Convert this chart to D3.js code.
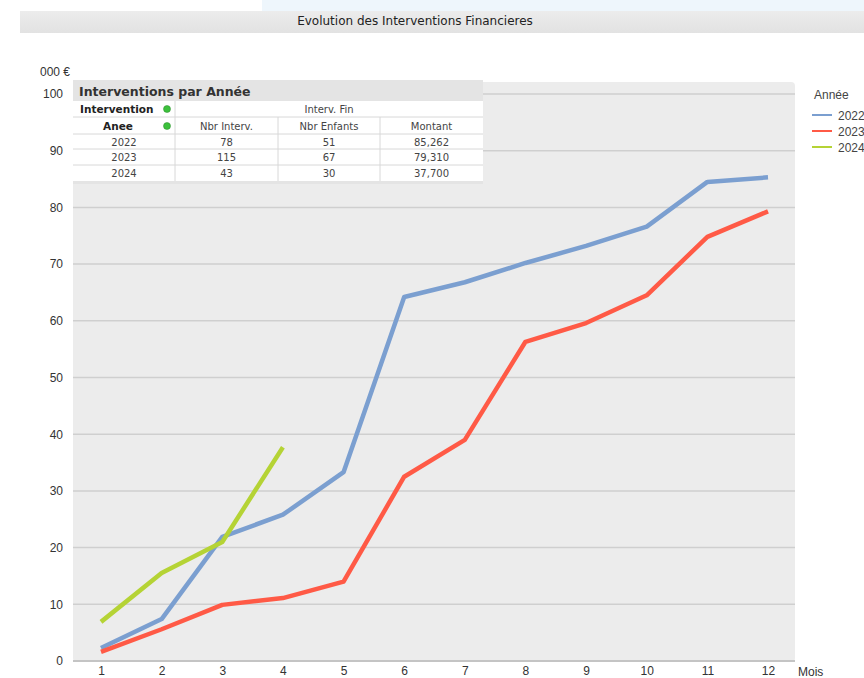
<!DOCTYPE html>
<html>
<head>
<meta charset="utf-8">
<script src="https://cdn.jsdelivr.net/npm/d3@7"></script>
<style>
  body { margin: 0; background: #fff; }
  svg { display: block; }
</style>
</head>
<body>
<div class="holder"></div>
<script>
"use strict";

const months = [1, 2, 3, 4, 5, 6, 7, 8, 9, 10, 11, 12];
const years = ["2022", "2023", "2024"];
const values2022 = [2.3, 7.4, 21.9, 25.8, 33.3, 64.2, 66.8, 70.2, 73.2, 76.6, 84.5, 85.3];
const values2023 = [1.6, 5.6, 9.9, 11.1, 14.0, 32.5, 39.0, 56.3, 59.6, 64.5, 74.8, 79.3];
const values2024 = [6.9, 15.5, 21.0, 37.7];
const yTicks = [0, 10, 20, 30, 40, 50, 60, 70, 80, 90, 100];
const colors = ["#7b9fd0", "#ff5a46", "#b5d335"];

const tableHeader = ["Nbr Interv.", "Nbr Enfants", "Montant"];
const nbrInterv = [78, 115, 43];
const nbrEnfants = [51, 67, 30];
const montant = ["85,262", "79,310", "37,700"];

const w = 864;
const h = 678;
const m = { left: 73, right: 795, top: 82, bottom: 662 };

const svg = d3.select(".holder").append("svg").attr("width", w).attr("height", h);

// top decorations
svg.append("rect").attr("x", 262).attr("y", 0).attr("width", w - 262).attr("height", 11).attr("fill", "#eef6fc");
const tg = svg.append("defs").append("linearGradient").attr("id", "tbar").attr("x1", 0).attr("y1", 0).attr("x2", 0).attr("y2", 1);
tg.append("stop").attr("offset", "0%").attr("stop-color", "#ececec");
tg.append("stop").attr("offset", "100%").attr("stop-color", "#e2e2e2");
svg.append("rect").attr("x", 20).attr("y", 11).attr("width", w - 20).attr("height", 22).attr("fill", "url(#tbar)");
svg.append("text").attr("x", 415).attr("y", 25).attr("text-anchor", "middle")
  .style("font-family", "DejaVu Sans").style("font-size", "12px").attr("fill", "#222")
  .text("Evolution des Interventions Financieres");

const x = d3.scalePoint().domain(months).range([101, 768]);
const y = d3.scaleLinear().domain([0, 100]).range([m.bottom - 1, 94]);

// plot background
svg.append("rect").attr("x", m.left).attr("y", m.top).attr("width", m.right - m.left)
  .attr("height", m.bottom - m.top).attr("rx", 4).attr("fill", "#ececec");

// grid
svg.append("g").selectAll("line").data(yTicks.filter(d => d > 0)).enter().append("line")
  .attr("x1", m.left).attr("x2", m.right)
  .attr("y1", d => y(d)).attr("y2", d => y(d))
  .attr("stroke", "#cfcfcf").attr("stroke-width", 1.5);
svg.append("line").attr("x1", m.left).attr("x2", m.right).attr("y1", y(0)).attr("y2", y(0))
  .attr("stroke", "#c4c4c4").attr("stroke-width", 2);

// axes
const yAxis = svg.append("g").attr("transform", "translate(66,0)")
  .call(d3.axisLeft(y).tickValues(yTicks).tickSize(0).tickPadding(3));
yAxis.select(".domain").remove();
yAxis.selectAll("text").style("font-family", "Liberation Sans").style("font-size", "12px").attr("fill", "#333");

const xAxis = svg.append("g").attr("transform", "translate(0," + m.bottom + ")")
  .call(d3.axisBottom(x).tickSize(0).tickPadding(4));
xAxis.select(".domain").remove();
xAxis.selectAll("text").style("font-family", "Liberation Sans").style("font-size", "12px").attr("fill", "#333");

svg.append("text").attr("x", 798).attr("y", 676).style("font-family", "Liberation Sans")
  .style("font-size", "12px").attr("fill", "#333").text("Mois");
svg.append("text").attr("x", 40).attr("y", 76).style("font-family", "Liberation Sans")
  .style("font-size", "12px").attr("fill", "#333").text("000 €");

// lines
const line = d3.line().x((d, i) => x(months[i])).y(d => y(d));
[values2022, values2023, values2024].forEach((vals, k) => {
  svg.append("path").datum(vals).attr("d", line).attr("fill", "none")
    .attr("stroke", colors[k]).attr("stroke-width", 4.5)
    .attr("stroke-linejoin", "round").attr("stroke-linecap", "butt");
});

// legend
const lg = svg.append("g");
lg.append("text").attr("x", 814).attr("y", 99).style("font-family", "Liberation Sans")
  .style("font-size", "12px").attr("fill", "#444").text("Année");
years.forEach((yr, i) => {
  lg.append("line").attr("x1", 812).attr("x2", 832).attr("y1", 115 + i * 16).attr("y2", 115 + i * 16)
    .attr("stroke", colors[i]).attr("stroke-width", 2);
  lg.append("text").attr("x", 838).attr("y", 120 + i * 16).style("font-family", "Liberation Sans")
    .style("font-size", "12px").attr("fill", "#444").text(yr);
});

// table
const tb = svg.append("g");
const tx = 73, ty = 80;
const colX = [73, 175, 278, 380, 483];
tb.append("rect").attr("x", tx).attr("y", ty).attr("width", 410).attr("height", 104).attr("fill", "#e4e4e4");
tb.append("text").attr("x", 79).attr("y", 96).style("font-family", "DejaVu Sans").style("font-weight", "bold")
  .style("font-size", "12.5px").attr("fill", "#333").text("Interventions par Année");
const rowY = [101, 117, 134, 149, 165, 181];
tb.append("rect").attr("x", colX[0]).attr("y", rowY[0]).attr("width", colX[4] - colX[0])
  .attr("height", rowY[5] - rowY[0]).attr("fill", "#fff");
// horizontal lines
tb.selectAll(".hl").data(rowY.slice(1, 5)).enter().append("line")
  .attr("x1", colX[0]).attr("x2", colX[4])
  .attr("y1", d => d).attr("y2", d => d).attr("stroke", "#d8d8d8");
// vertical lines
tb.selectAll(".vl").data(colX.slice(1, 4)).enter().append("line")
  .attr("x1", d => d).attr("x2", d => d)
  .attr("y1", (d, i) => i === 0 ? rowY[0] : rowY[1]).attr("y2", rowY[5]).attr("stroke", "#d8d8d8");
const tf = (sel) => sel.style("font-family", "DejaVu Sans").style("font-size", "10px").attr("fill", "#444").attr("text-anchor", "middle");
tb.append("text").attr("x", 80).attr("y", 113).style("font-family", "DejaVu Sans").style("font-weight", "bold")
  .style("font-size", "10.5px").attr("fill", "#222").text("Intervention");
tb.append("text").attr("x", 118).attr("y", 130).style("font-family", "DejaVu Sans").style("font-weight", "bold")
  .style("font-size", "10.5px").attr("fill", "#222").attr("text-anchor", "middle").text("Anee");
[109, 126].forEach(cy => {
  tb.append("circle").attr("cx", 167).attr("cy", cy).attr("r", 3.5).attr("fill", "#3cc13c").attr("stroke", "#2a8a2a").attr("stroke-width", 0.5);
});
tf(tb.append("text").attr("x", (colX[1] + colX[4]) / 2).attr("y", 113)).text("Interv. Fin");
tableHeader.forEach((t, i) => {
  tf(tb.append("text").attr("x", (colX[i + 1] + colX[i + 2]) / 2).attr("y", 130)).text(t);
});
years.forEach((yr, r) => {
  const cy = rowY[r + 2] + 12;
  const cells = [yr, nbrInterv[r], nbrEnfants[r], montant[r]];
  cells.forEach((c, i) => {
    tf(tb.append("text").attr("x", (colX[i] + colX[i + 1]) / 2).attr("y", cy)).text(c);
  });
});
</script>
</body>
</html>
